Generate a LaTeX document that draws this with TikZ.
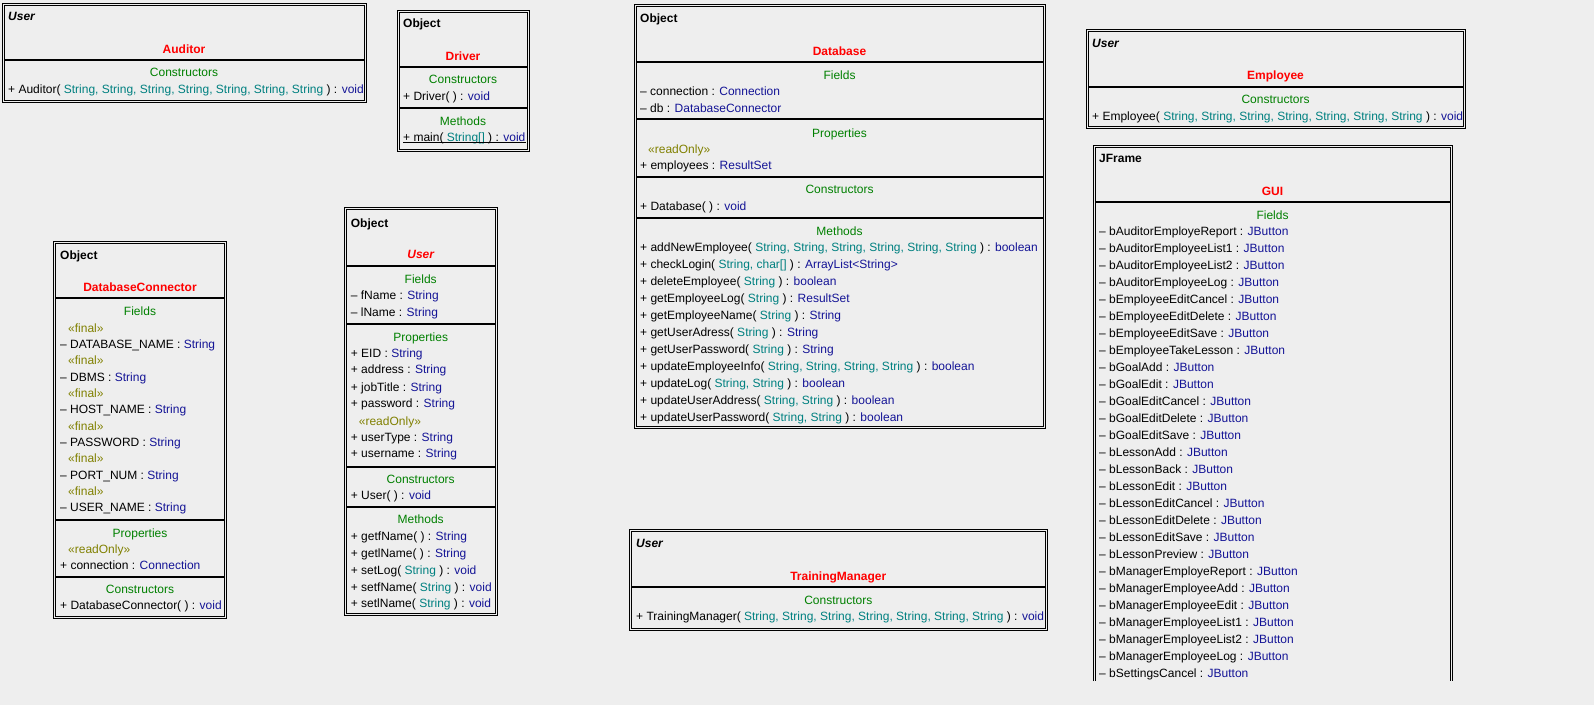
\documentclass[tikz,border=0pt]{standalone}
\usepackage{fontspec}
\setmainfont{Liberation Sans}

\definecolor{canvas}{RGB}{238,238,238}
\definecolor{namered}{RGB}{255,0,0}
\definecolor{sectgreen}{RGB}{0,128,0}
\definecolor{typeblue}{RGB}{20,20,150}
\definecolor{argteal}{RGB}{0,128,128}
\definecolor{stereoolive}{RGB}{128,128,0}

\newcommand{\argt}[1]{\textcolor{argteal}{#1}}
\newcommand{\rett}[1]{\textcolor{typeblue}{#1}}
\newcommand{\stereotag}[1]{\textcolor{stereoolive}{«#1»}}

\tikzset{
  umlframe/.style={draw, line width=1pt, double=canvas, double distance=1pt},
  sepline/.style={line width=2pt},
  umltext/.style={inner sep=0pt, text height=8.6pt, text depth=0pt, font=\fontsize{12}{14}\selectfont},
  superlbl/.style={umltext, anchor=west, font=\fontsize{12}{14}\selectfont\bfseries},
  abstractlbl/.style={superlbl, font=\fontsize{12}{14}\selectfont\bfseries\itshape},
  clsname/.style={umltext, text=namered, font=\fontsize{12}{14}\selectfont\bfseries},
  sectitle/.style={umltext, text=sectgreen},
  member/.style={umltext, anchor=west},
  stereoline/.style={member, xshift=8pt},
}

\begin{document}
\begin{tikzpicture}[x=1pt, y=-1pt]
\fill[canvas] (0,0) rectangle (1594,705);
\useasboundingbox (0,0) rectangle (1594,705);

% Auditor
\draw[umlframe] (3,4) rectangle (365,101);
\draw[sepline] (4.5,60) -- (363.5,60);
\node (aud-sup) [abstractlbl] at (8,16) {User};
\node (aud-name) [clsname] at (184,49) {Auditor};
\node (aud-sect) [sectitle] at (184,72) {Constructors};
\node (aud-c1) [member] at (8,89) {+ Auditor( \argt{String, String, String, String, String, String, String} ) : \rett{void}};

% Driver
\draw[umlframe] (398,11) rectangle (528,150);
\draw[sepline] (399.5,66.7) -- (526.5,66.7);
\draw[sepline] (399.5,108.3) -- (526.5,108.3);
\node (drv-sup) [superlbl] at (403,23.3) {Object};
\node (drv-name) [clsname] at (463,55.7) {Driver};
\node (drv-sect1) [sectitle] at (463,79) {Constructors};
\node (drv-c1) [member] at (403,95.7) {+ Driver( ) : \rett{void}};
\node (drv-sect2) [sectitle] at (463,120.7) {Methods};
\node (drv-m1) [member] at (403,136.7) {+ main( \argt{String[]} ) : \rett{void}};
% static member: underlined
\draw[line width=1pt] ([yshift=-1.5pt]drv-m1.south west) -- ([yshift=-1.5pt]drv-m1.south east);

% Database
\draw[umlframe] (635,5) rectangle (1044,427.5);
\foreach \y in {61.7, 119.3, 176.7, 218.3}
  \draw[sepline] (636.5,\y) -- (1042.5,\y);
\node (db-sup) [superlbl] at (640,18.3) {Object};
\node (db-name) [clsname] at (839.5,50.7) {Database};
\node (db-sect1) [sectitle] at (839.5,74.7) {Fields};
\node (db-f1) [member] at (640,90.7) {– connection : \rett{Connection}};
\node (db-f2) [member] at (640,107.7) {– db : \rett{DatabaseConnector}};
\node (db-sect2) [sectitle] at (839.5,132.7) {Properties};
\node (db-p0) [stereoline] at (640,149) {\stereotag{readOnly}};
\node (db-p1) [member] at (640,164.7) {+ employees : \rett{ResultSet}};
\node (db-sect3) [sectitle] at (839.5,189.3) {Constructors};
\node (db-c1) [member] at (640,205.7) {+ Database( ) : \rett{void}};
\node (db-sect4) [sectitle] at (839.5,230.7) {Methods};
\foreach \txt [count=\i] in {
    {+ addNewEmployee( \argt{String, String, String, String, String, String} ) : \rett{boolean}},
    {+ checkLogin( \argt{String, char[]} ) : \rett{ArrayList<String>}},
    {+ deleteEmployee( \argt{String} ) : \rett{boolean}},
    {+ getEmployeeLog( \argt{String} ) : \rett{ResultSet}},
    {+ getEmployeeName( \argt{String} ) : \rett{String}},
    {+ getUserAdress( \argt{String} ) : \rett{String}},
    {+ getUserPassword( \argt{String} ) : \rett{String}},
    {+ updateEmployeeInfo( \argt{String, String, String, String} ) : \rett{boolean}},
    {+ updateLog( \argt{String, String} ) : \rett{boolean}},
    {+ updateUserAddress( \argt{String, String} ) : \rett{boolean}},
    {+ updateUserPassword( \argt{String, String} ) : \rett{boolean}}}
  \node (db-m\i) [member] at (640,{246.7+17*(\i-1)}) {\txt};

% Employee
\draw[umlframe] (1087,30.3) rectangle (1464,127.3);
\draw[sepline] (1088.5,86.7) -- (1462.5,86.7);
\node (emp-sup) [abstractlbl] at (1092,43.3) {User};
\node (emp-name) [clsname] at (1275.5,75) {Employee};
\node (emp-sect) [sectitle] at (1275.5,99.3) {Constructors};
\node (emp-c1) [member] at (1092,115.7) {+ Employee( \argt{String, String, String, String, String, String, String} ) : \rett{void}};

% GUI (cut off at the bottom)
\draw[umlframe] (1094,681) -- (1094,146) -- (1451,146) -- (1451,681);
\draw[sepline] (1095.5,201.7) -- (1449.5,201.7);
\node (gui-sup) [superlbl] at (1099,158.3) {JFrame};
\node (gui-name) [clsname] at (1272.5,190.7) {GUI};
\node (gui-sect) [sectitle] at (1272.5,214.7) {Fields};
\foreach \fld [count=\i] in {bAuditorEmployeReport, bAuditorEmployeeList1, bAuditorEmployeeList2,
    bAuditorEmployeeLog, bEmployeeEditCancel, bEmployeeEditDelete, bEmployeeEditSave,
    bEmployeeTakeLesson, bGoalAdd, bGoalEdit, bGoalEditCancel, bGoalEditDelete, bGoalEditSave,
    bLessonAdd, bLessonBack, bLessonEdit, bLessonEditCancel, bLessonEditDelete, bLessonEditSave,
    bLessonPreview, bManagerEmployeReport, bManagerEmployeeAdd, bManagerEmployeeEdit,
    bManagerEmployeeList1, bManagerEmployeeList2, bManagerEmployeeLog, bSettingsCancel}
  \node (gui-f\i) [member] at (1099,{230.7+17*(\i-1)}) {– \fld\ : \rett{JButton}};

% DatabaseConnector
\draw[umlframe] (54.3,242) rectangle (225.7,617.3);
\foreach \y in {298.3, 520, 576.7}
  \draw[sepline] (55.8,\y) -- (224.2,\y);
\node (dbc-sup) [superlbl] at (60,255) {Object};
\node (dbc-name) [clsname] at (140,286.7) {DatabaseConnector};
\node (dbc-sect1) [sectitle] at (140,310.7) {Fields};
\foreach \fld [count=\i] in {DATABASE\_NAME, DBMS, HOST\_NAME, PASSWORD, PORT\_NUM, USER\_NAME} {
  \node (dbc-s\i) [stereoline] at (60,{327.7+32.72*(\i-1)}) {\stereotag{final}};
  \node (dbc-f\i) [member] at (60,{344.06+32.72*(\i-1)}) {– \fld\ : \rett{String}};
}
\node (dbc-sect2) [sectitle] at (140,532.7) {Properties};
\node (dbc-p0) [stereoline] at (60,549) {\stereotag{readOnly}};
\node (dbc-p1) [member] at (60,565) {+ connection : \rett{Connection}};
\node (dbc-sect3) [sectitle] at (140,589.3) {Constructors};
\node (dbc-c1) [member] at (60,605) {+ DatabaseConnector( ) : \rett{void}};

% User
\draw[umlframe] (345.3,208.3) rectangle (496,614);
\foreach \y in {265.7, 324, 466.7, 507.3}
  \draw[sepline] (346.8,\y) -- (494.5,\y);
\node (usr-sup) [superlbl] at (350.7,222.7) {Object};
\node (usr-name) [clsname, font=\fontsize{12}{14}\selectfont\bfseries\itshape] at (420.7,254.3) {User};
\node (usr-sect1) [sectitle] at (420.7,278.7) {Fields};
\node (usr-f1) [member] at (350.7,295) {– fName : \rett{String}};
\node (usr-f2) [member] at (350.7,311.7) {– lName : \rett{String}};
\node (usr-sect2) [sectitle] at (420.7,336.7) {Properties};
\foreach \y/\txt [count=\i] in {352.7/EID, 369.3/address, 386.7/jobTitle, 403.5/password}
  \node (usr-p\i) [member] at (350.7,\y) {+ \txt\ : \rett{String}};
\node (usr-p0) [stereoline] at (350.7,421) {\stereotag{readOnly}};
\node (usr-p5) [member] at (350.7,436.7) {+ userType : \rett{String}};
\node (usr-p6) [member] at (350.7,453.3) {+ username : \rett{String}};
\node (usr-sect3) [sectitle] at (420.7,479) {Constructors};
\node (usr-c1) [member] at (350.7,495) {+ User( ) : \rett{void}};
\node (usr-sect4) [sectitle] at (420.7,519.3) {Methods};
\foreach \y/\txt [count=\i] in {
    536/{+ getfName( ) : \rett{String}},
    552.7/{+ getlName( ) : \rett{String}},
    570/{+ setLog( \argt{String} ) : \rett{void}},
    586.7/{+ setfName( \argt{String} ) : \rett{void}},
    603.3/{+ setlName( \argt{String} ) : \rett{void}}}
  \node (usr-m\i) [member] at (350.7,\y) {\txt};

% TrainingManager
\draw[umlframe] (630.7,530.7) rectangle (1046,629.5);
\draw[sepline] (632.2,586.7) -- (1044.5,586.7);
\node (tm-sup) [abstractlbl] at (636,543.3) {User};
\node (tm-name) [clsname] at (838.3,575.7) {TrainingManager};
\node (tm-sect) [sectitle] at (838.3,600) {Constructors};
\node (tm-c1) [member] at (636,615.7) {+ TrainingManager( \argt{String, String, String, String, String, String, String} ) : \rett{void}};
\end{tikzpicture}
\end{document}
